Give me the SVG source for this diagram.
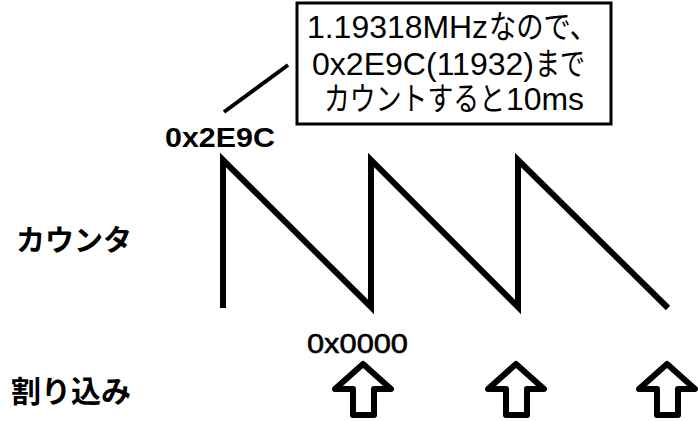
<svg xmlns="http://www.w3.org/2000/svg" width="698" height="421" viewBox="0 0 698 421">
<style>
.t{font-family:"Liberation Sans","Noto Sans CJK JP",sans-serif;fill:#000}
.b{font-weight:bold}
.ln{fill:none;stroke:#000}
.arr{fill:#fff;stroke:#000;stroke-width:6;stroke-linejoin:round}
</style>
<rect width="698" height="421" fill="#fff"/>
<g id="note">
<rect x="297" y="3" width="314" height="121" fill="#fff" stroke="#000" stroke-width="3"/>
<text class="t" y="38" font-size="32"><tspan x="307" textLength="181" lengthAdjust="spacingAndGlyphs">1.19318MHz</tspan><tspan x="489" textLength="108" lengthAdjust="spacingAndGlyphs">なので、</tspan></text>
<text class="t" y="75" font-size="32"><tspan x="312" textLength="222" lengthAdjust="spacingAndGlyphs">0x2E9C(11932)</tspan><tspan x="535" textLength="50" lengthAdjust="spacingAndGlyphs">まで</tspan></text>
<text class="t" y="110" font-size="32"><tspan x="324" textLength="181" lengthAdjust="spacingAndGlyphs">カウントすると</tspan><tspan x="506" textLength="78" lengthAdjust="spacingAndGlyphs">10ms</tspan></text>
</g>
<g id="connectors">
<line class="ln" x1="224" y1="112" x2="288" y2="65" stroke-width="4"/>
</g>
<g id="max-label"><text class="t b" x="165" y="147" font-size="28" textLength="110" lengthAdjust="spacingAndGlyphs">0x2E9C</text></g>
<g id="counter-label"><text class="t b" x="16" y="251" font-size="29">カウンタ</text></g>
<g id="interrupt-label"><text class="t b" x="11" y="402" font-size="30">割り込み</text></g>
<g id="zero-label"><text class="t" x="307" y="353" font-size="28" textLength="101" lengthAdjust="spacingAndGlyphs" stroke="#000" stroke-width="0.6">0x0000</text></g>
<g id="sawtooth">
<polyline class="ln" stroke-width="6" stroke-linejoin="miter" points="223,308 223,160 371,307 371,160 518,307 518,160 668,308"/>
</g>
<g id="arrow1"><path class="arr" d="M363,364 L391,389 L374,389 L374,415 L353,415 L353,389 L335,389 Z"/></g>
<g id="arrow2"><path class="arr" d="M516,364 L544,389 L527,389 L527,415 L506,415 L506,389 L488,389 Z"/></g>
<g id="arrow3"><path class="arr" d="M667,364 L695,389 L678,389 L678,415 L657,415 L657,389 L639,389 Z"/></g>
</svg>
